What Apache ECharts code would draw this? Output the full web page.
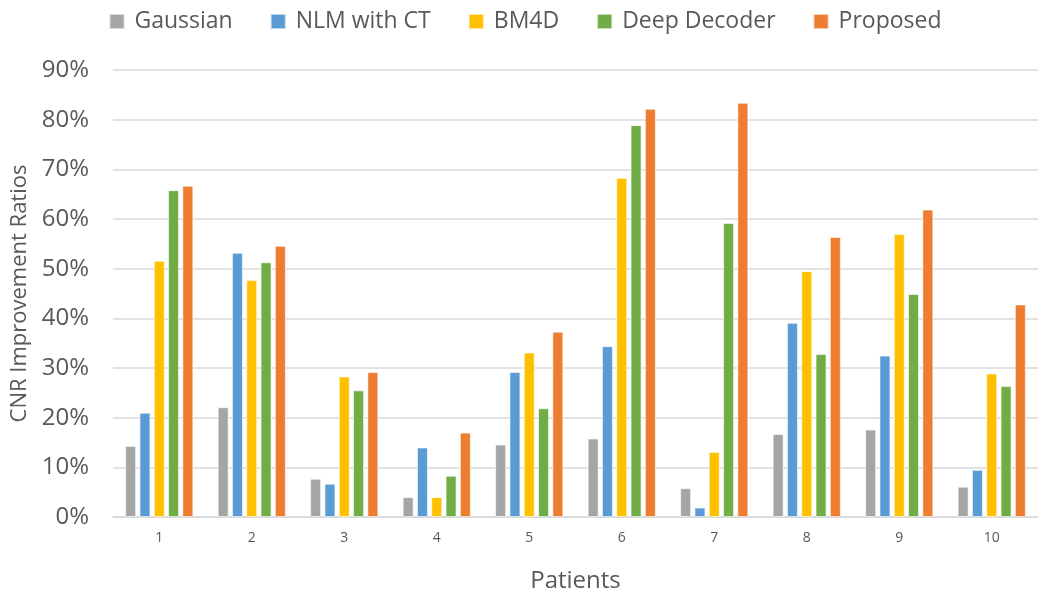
<!DOCTYPE html>
<html><head><meta charset="utf-8">
<script src="https://cdn.jsdelivr.net/npm/echarts@6/dist/echarts.min.js"></script>
<style>html,body{margin:0;padding:0;background:#fff}#c{width:1050px;height:599px}</style>
</head><body><div id="c"></div>
<script>
const categories = ['1','2','3','4','5','6','7','8','9','10'];
const seriesNames = ['Gaussian','NLM with CT','BM4D','Deep Decoder','Proposed'];
const gaussian    = [14.3, 22.1, 7.7, 4.0, 14.6, 15.8, 5.8, 16.7, 17.6, 6.1];
const nlmCT       = [21.0, 53.2, 6.7, 14.0, 29.2, 34.4, 1.9, 39.1, 32.5, 9.5];
const bm4d        = [51.6, 47.7, 28.3, 4.0, 33.1, 68.3, 13.1, 49.5, 57.0, 28.9];
const deepDecoder = [65.8, 51.3, 25.5, 8.3, 21.9, 78.9, 59.2, 32.8, 44.9, 26.4];
const proposed    = [66.7, 54.6, 29.2, 17.0, 37.3, 82.2, 83.4, 56.4, 61.9, 42.8];
const yTicks = [0,10,20,30,40,50,60,70,80,90];

const colors = ['#A5A5A5','#5B9BD5','#FFC000','#70AD47','#ED7D31'];
const dataSets = [gaussian, nlmCT, bm4d, deepDecoder, proposed];
const font = 'Open Sans, sans-serif';

const chart = echarts.init(document.getElementById('c'), null, {renderer:'canvas'});
chart.setOption({
  animation:false,
  color: colors,
  legend:{
    top: 5, left: 'center',
    itemWidth: 15, itemHeight: 15, itemGap: 37,
    icon: 'rect',
    textStyle:{fontFamily:font, fontSize:23, color:'#595959', padding:[0,0,0,5]},
    data: seriesNames
  },
  grid:{left:113, right:12, top:70, bottom:82, containLabel:false},
  xAxis:{
    type:'category', data:categories,
    name:'Patients', nameLocation:'middle', nameGap:52,
    nameTextStyle:{fontFamily:font, fontSize:24, color:'#595959'},
    axisLine:{show:true, lineStyle:{color:'#d9d9d9', width:1.5}},
    axisTick:{show:false},
    axisLabel:{fontFamily:font, fontSize:14, color:'#595959', margin:14}
  },
  yAxis:{
    type:'value', min:0, max:90, interval:10,
    name:'CNR Improvement Ratios', nameLocation:'middle', nameGap:82,
    nameTextStyle:{fontFamily:font, fontSize:22, color:'#595959'},
    axisLine:{show:false}, axisTick:{show:false},
    axisLabel:{fontFamily:font, fontSize:24, color:'#595959', margin:24,
      formatter: v => yTicks.includes(v) ? v + '%' : ''},
    splitLine:{lineStyle:{color:'#d9d9d9', width:1.5}}
  },
  series: seriesNames.map((n,i)=>({
    name:n, type:'bar', data:dataSets[i],
    barWidth:11, barGap:'30%',
    itemStyle:{color:colors[i], borderColor:'rgba(255,255,255,0.6)', borderWidth:1}
  }))
});
</script></body></html>
